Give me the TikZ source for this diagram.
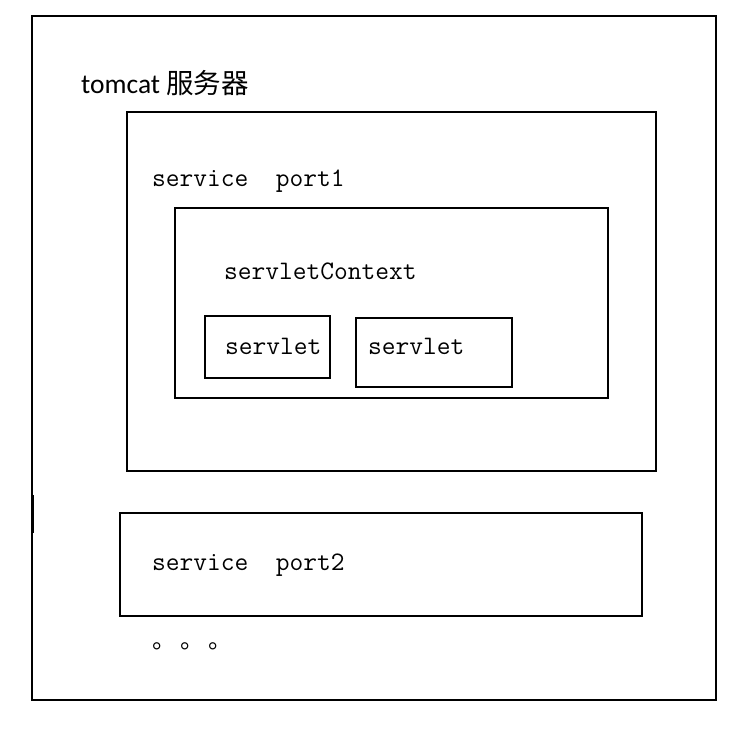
\documentclass[tikz,border=0pt]{standalone}
\usepackage{fontspec}
\newfontfamily\carl{Carlito}
\newfontfamily\cjk{Noto Sans CJK SC}
\setmonofont{Latin Modern Mono}
\tikzset{
  box/.style={draw=black, line width=2pt},
  mono/.style={anchor=base west, inner sep=0pt, font=\fontsize{26.7}{30}\selectfont\ttfamily},
}
\begin{document}
\begin{tikzpicture}[x=1pt,y=-1pt]
\useasboundingbox (0,0) rectangle (750,734);
% tomcat
\draw[box] (32,16) rectangle (716,700);
\draw[line width=3pt] (32.5,495) -- (32.5,533);
\node[anchor=base west, inner sep=0pt, font=\fontsize{27.5}{32}\selectfont] (tomcat) at (81,93) {\carl tomcat \cjk 服务器};
% service port1
\draw[box] (127,112) rectangle (656,471);
\node[mono] (sp1) at (152,186) {service\ \ port1};
% servletContext
\draw[box] (175,208) rectangle (608,398);
\node[mono] (ctx) at (224,279) {servletContext};
% servlets
\draw[box] (205,316) rectangle (330,378);
\node[mono] (s1) at (225,354) {servlet};
\draw[box] (355.5,318) rectangle (511.5,387);
\node[mono] (s2) at (368,354) {servlet};
% service port2
\draw[box] (120,513) rectangle (642,616);
\node[mono] (sp2) at (152,570) {service\ \ port2};
% dots
\node[anchor=base west, inner sep=0pt, font=\fontsize{24}{28}\selectfont\cjk] (dots) at (152,648) {。\hspace{4pt}。\hspace{4pt}。};
\end{tikzpicture}
\end{document}
